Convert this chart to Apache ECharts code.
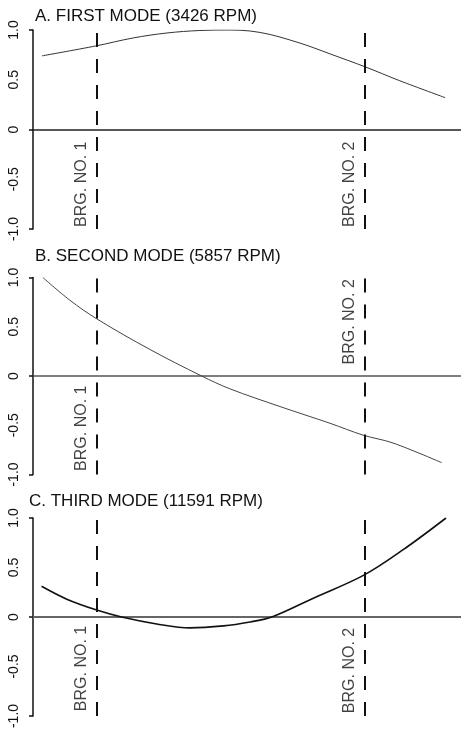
<!DOCTYPE html>
<html>
<head>
<meta charset="utf-8">
<script src="https://cdn.jsdelivr.net/npm/echarts@6/dist/echarts.min.js"></script>
<style>
html,body{margin:0;padding:0;background:#fff;}
#chart{width:461px;height:734px;}
</style>
</head>
<body>
<div id="chart"></div>
<script>
// ---- data ----
const titles = ['A. FIRST MODE (3426 RPM)', 'B. SECOND MODE (5857 RPM)', 'C. THIRD MODE (11591 RPM)'];
const tickLabels = ['-1.0', '-0.5', '0', '0.5', '1.0'];
const tickValues = [-1, -0.5, 0, 0.5, 1];
const bearingX = [14.8, 77.4];
const bearingNames = ['BRG. NO. 1', 'BRG. NO. 2'];
// vertical placement (amplitude units) of each bearing label per mode
const bearingLabelY_A = [-0.55, -0.55];
const bearingLabelY_B = [-0.53, 0.55];
const bearingLabelY_C = [-0.52, -0.54];

const modeA_x = [2.1, 14.7, 23.4, 31.3, 39.0, 46.0, 50.7, 55.4, 60.0, 64.7, 69.4, 77.6, 85.7, 96.3];
const modeA_y = [0.74, 0.84, 0.92, 0.97, 0.995, 1.0, 0.99, 0.955, 0.90, 0.835, 0.76, 0.63, 0.49, 0.32];

const modeB_x = [2.3, 8.6, 14.9, 27.3, 39.4, 46.0, 57.7, 69.4, 77.1, 84.1, 95.5];
const modeB_y = [1.0, 0.77, 0.58, 0.27, 0.0, -0.13, -0.31, -0.48, -0.60, -0.68, -0.88];

const modeC_x = [2.0, 7.9, 14.9, 20.7, 28.9, 36.7, 44.5, 50.7, 55.8, 65.5, 77.2, 86.5, 96.5];
const modeC_y = [0.31, 0.18, 0.07, 0.0, -0.07, -0.11, -0.09, -0.05, 0.0, 0.19, 0.42, 0.68, 1.0];

// ---- build ----
const FONT = '"Liberation Sans", Arial, Helvetica, sans-serif';
const modes = [
  {x: modeA_x, y: modeA_y, lab: bearingLabelY_A, top: 30, height: 199, titleTop: 8, titleLeft: 35, lineW: 1, lineC: '#333', zeroC: '#222', zeroW: 1.5},
  {x: modeB_x, y: modeB_y, lab: bearingLabelY_B, top: 277.5, height: 197, titleTop: 248, titleLeft: 35, lineW: 1, lineC: '#444', zeroC: '#555', zeroW: 1.5},
  {x: modeC_x, y: modeC_y, lab: bearingLabelY_C, top: 518, height: 198, titleTop: 493, titleLeft: 29, lineW: 1.6, lineC: '#111', zeroC: '#666', zeroW: 2}
];

const option = {
  backgroundColor: '#fff',
  animation: false,
  title: [], grid: [], xAxis: [], yAxis: [], series: []
};

modes.forEach((m, i) => {
  option.title.push({
    text: titles[i], left: m.titleLeft, top: m.titleTop, padding: 0,
    textStyle: {fontFamily: FONT, fontSize: 17, fontWeight: 'normal', color: '#111'}
  });
  option.grid.push({left: 33, right: 0, top: m.top, height: m.height, containLabel: false, outerBoundsMode: 'none'});
  option.xAxis.push({
    type: 'value', gridIndex: i, min: 0, max: 100,
    axisLine: {show: true, onZero: true, lineStyle: {color: m.zeroC, width: m.zeroW}},
    axisTick: {show: false}, axisLabel: {show: false}, splitLine: {show: false}
  });
  // axis line with end ticks
  option.yAxis.push({
    type: 'value', gridIndex: i, position: 'left', min: -1, max: 1, interval: 1,
    axisLine: {show: true, lineStyle: {color: '#111', width: 1.5}},
    axisTick: {show: true, length: 4, lineStyle: {color: '#111', width: 1.5}},
    axisLabel: {show: false}, splitLine: {show: false}
  });
  // labels
  option.yAxis.push({
    type: 'value', gridIndex: i, position: 'left', offset: 0, min: -1, max: 1, interval: 0.5,
    axisLine: {show: false}, axisTick: {show: false}, splitLine: {show: false},
    axisLabel: {
      show: true, rotate: 90, margin: 12, color: '#111', fontFamily: FONT, fontSize: 14,
      formatter: v => tickLabels[tickValues.indexOf(Math.round(v * 2) / 2)]
    }
  });
  option.series.push({
    type: 'line', xAxisIndex: i, yAxisIndex: i * 2,
    data: m.x.map((x, k) => [x, m.y[k]]),
    smooth: 0.35, symbol: 'none',
    lineStyle: {color: m.lineC, width: m.lineW},
    markLine: {
      silent: true, symbol: 'none', animation: false,
      label: {show: false},
      lineStyle: {color: '#111', width: 2, type: [14, 12]},
      data: bearingX.map(x => ({xAxis: x}))
    }
  });
  option.series.push({
    type: 'scatter', xAxisIndex: i, yAxisIndex: i * 2,
    symbolSize: 0, silent: true,
    data: bearingX.map((x, k) => ({name: bearingNames[k], value: [x, m.lab[k]]})),
    label: {
      show: true, position: 'inside', rotate: 90, offset: [0, -15],
      formatter: p => p.name,
      fontFamily: FONT, fontSize: 16, color: '#111'
    }
  });
});

const chart = echarts.init(document.getElementById('chart'), null, {renderer: 'canvas'});
chart.setOption(option);
</script>
</body>
</html>
